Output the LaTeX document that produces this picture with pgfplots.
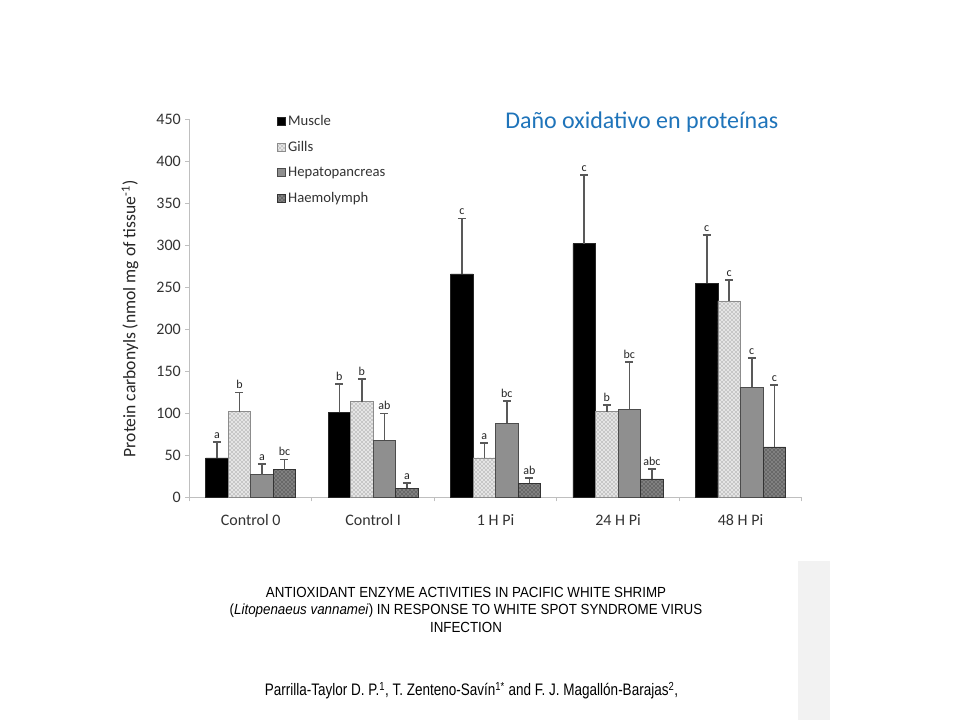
\documentclass[border=0pt]{standalone}
\usepackage{fontspec}
\setmainfont{Carlito}
\newfontfamily\arial{Liberation Sans}
\usepackage{pgfplots}
\pgfplotsset{compat=1.18}
\usepackage{pgfplotstable}
\usetikzlibrary{patterns}

\definecolor{titleblue}{HTML}{1F74BA}
\definecolor{axisgray}{HTML}{BFBFBF}
\definecolor{errgray}{HTML}{595959}
\definecolor{hepgray}{HTML}{8F8F8F}
\definecolor{slidegray}{HTML}{F2F2F2}

% x = group, y = mean, err = upper error, lab = letter
\pgfplotstableread{
x y err lab
0 47 19 a
1 101 34 b
2 266 66 c
3 302 82 c
4 255 57 c
}\muscle
\pgfplotstableread{
x y err lab
0 102 23 b
1 114 27 b
2 47 18 a
3 102 8 b
4 234 25 c
}\gills
\pgfplotstableread{
x y err lab
0 27 13 a
1 68 32 ab
2 88 27 bc
3 105 56 bc
4 131 35 c
}\hepato
\pgfplotstableread{
x y err lab
0 33 12 bc
1 11 6 a
2 17 6 ab
3 22 12 abc
4 60 74 c
}\haemo

\begin{document}
\begin{tikzpicture}
\path[use as bounding box, fill=white] (0,0) rectangle (720pt,540pt);
\fill[slidegray] (598.3pt,0pt) rectangle (622.5pt,119.5pt);

\begin{axis}[
    at={(142.1pt,167.0pt)}, anchor=south west,
    scale only axis, width=459.2pt, height=283.5pt,
    xmin=-0.5, xmax=4.5, ymin=0, ymax=450,
    ybar, bar width=0.184,
    axis x line*=bottom, axis y line*=left,
    axis line style={axisgray, line width=0.8pt},
    tick style={axisgray, line width=0.8pt},
    tick align=outside,
    major tick length=3pt, minor tick length=3pt,
    ytick={0,50,...,450},
    xtick={0,...,4},
    xticklabels={Control 0, Control I, 1 H Pi, 24 H Pi, 48 H Pi},
    major x tick style={draw=none},
    minor xtick={-0.5,0.5,...,4.5},
    /pgf/number format/assume math mode=true,
    ticklabel style={font=\fontsize{12}{14}\selectfont, text=black!80},
    xticklabel style={yshift=-6pt},
    ylabel={Protein carbonyls (nmol mg of tissue\textsuperscript{-1})},
    ylabel style={at={(axis description cs:-0.097,0.472)}, anchor=center,
      font=\fontsize{13.2}{15}\selectfont, text=black!85},
    legend style={at={(0.136,1.025)}, anchor=north west, draw=none,
      fill=none, font=\fontsize{11}{13}\selectfont, text=black!80,
      row sep=6.2pt},
    legend cell align=left,
    legend image code/.code={\draw[#1] (0pt,-3pt) rectangle (6pt,3pt);},
    error bars/y dir=plus, error bars/y explicit,
    error bars/error mark=-,
    error bars/error bar style={errgray, line width=1.2pt},
    error bars/error mark options={errgray, line width=1.2pt, mark size=3pt, rotate=90},
    point meta=explicit symbolic,
    visualization depends on={\thisrow{err} \as \myerr},
    nodes near coords,
    every node near coord/.append style={anchor=south, yshift={\myerr*0.63pt},
      font=\fontsize{9}{10}\selectfont, text=black!85, inner sep=2.5pt},
  ]
  \addplot[bar shift=-0.276, fill=black, draw=black!85]
    table[x=x, y=y, y error=err, meta=lab] {\muscle};
  \addplot[bar shift=-0.092, fill=black!10, draw=black!45,
    postaction={pattern=crosshatch dots, pattern color=black!60}]
    table[x=x, y=y, y error=err, meta=lab] {\gills};
  \addplot[bar shift=0.092, fill=hepgray, draw=black!70]
    table[x=x, y=y, y error=err, meta=lab] {\hepato};
  \addplot[bar shift=0.276, fill=black!50, draw=black!80,
    postaction={pattern=crosshatch dots, pattern color=black!90}]
    table[x=x, y=y, y error=err, meta=lab] {\haemo};
  \legend{Muscle, Gills, Hepatopancreas, Haemolymph}
\end{axis}

\node[anchor=base west, text=titleblue, inner sep=0pt,
  font=\fontsize{18}{21}\selectfont] at (378.75pt,443.25pt)
  {Daño oxidativo en proteínas};

\begin{scope}[every node/.style={anchor=base, inner sep=0pt, xscale=0.91,
    font=\arial\fontsize{11}{13}\selectfont}]
  \node at (349.5pt,92.0pt)
    {ANTIOXIDANT ENZYME ACTIVITIES IN PACIFIC WHITE SHRIMP};
  \node at (349.5pt,78.9pt)
    {(\textit{Litopenaeus vannamei}) IN RESPONSE TO WHITE SPOT SYNDROME VIRUS};
  \node at (349.5pt,65.6pt) {INFECTION};
  \node[xscale=0.81/0.91, font=\arial\fontsize{12.5}{15}\selectfont] at (353.6pt,18pt)
    {Parrilla-Taylor D. P.\textsuperscript{1}, T. Zenteno-Savín\textsuperscript{1*} and F. J. Magallón-Barajas\textsuperscript{2},};
\end{scope}
\end{tikzpicture}
\end{document}
